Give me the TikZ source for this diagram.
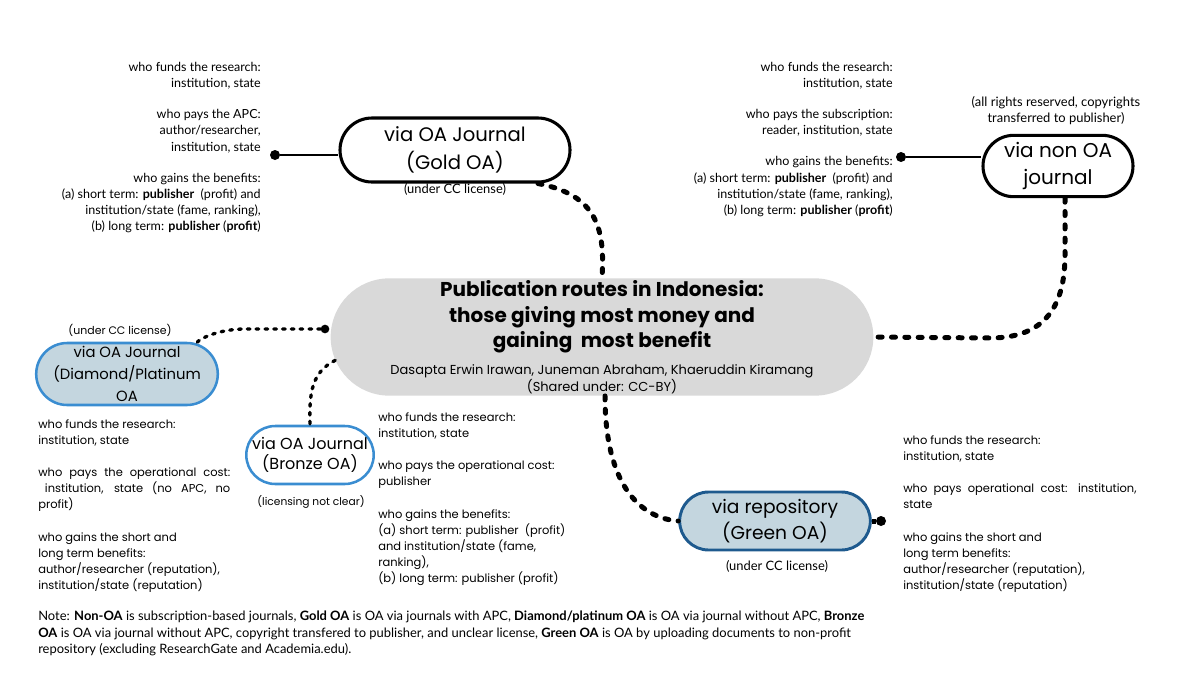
\documentclass[tikz,border=0pt]{standalone}
\usepackage{fontspec}
\setmainfont{Lato}
\newfontfamily\pop{Poppins}
\usetikzlibrary{shapes.misc}
\definecolor{cgray}{HTML}{D9D9D9}
\definecolor{cfill}{HTML}{C4D6DF}
\definecolor{cblue}{HTML}{3A8DD1}
\definecolor{cdark}{HTML}{1E5A8E}
\begin{document}
\begin{tikzpicture}[x=0.75pt,y=-0.75pt,
  route/.style={rounded rectangle, inner sep=0pt, align=center},
  blackroute/.style={route, draw=black, line width=2.3pt, fill=white},
  blueroute/.style={route, draw=cblue, line width=1.9pt},
  conn/.style={line width=3.75pt, dash pattern=on 3pt off 7pt, line cap=round},
  thinconn/.style={line width=2.5pt, dash pattern=on 2pt off 4.6pt, line cap=round},
  solidconn/.style={line width=1.6pt},
  dot/.style={circle, fill=black, inner sep=0pt, minimum size=7.5pt},
  toptxt/.style={inner sep=0pt, font=\fontsize{9.4}{12.2}\selectfont},
  lowtxt/.style={inner sep=0pt, align=left, font=\pop\fontsize{8.6}{12}\selectfont},
  sublbl/.style={inner sep=0pt, align=center, font=\fontsize{9.7}{12}\selectfont},
]
\useasboundingbox (0,0) rectangle (1200,675);

% ---------- nodes ----------
\node[route, fill=cgray, minimum width=407pt, minimum height=88pt] (center) at (602,337) {};
\node[inner sep=0pt, align=center, font=\pop\bfseries\fontsize{15}{19}\selectfont] (title) at (602,317)
  {Publication routes in Indonesia:\\ those giving most money and\\ gaining\ \ most benefit};
\node[inner sep=0pt, align=center, font=\pop\fontsize{9.75}{13}\selectfont] (authors) at (602,379)
  {Dasapta Erwin Irawan, Juneman Abraham, Khaeruddin Kiramang\\ (Shared under: CC-BY)};

\node[blackroute, minimum width=172.5pt, minimum height=48pt, font=\pop\fontsize{14.7}{21}\selectfont] (gold) at (455,150)
  {via OA Journal\\ (Gold OA)};
\node[sublbl] (goldlic) at (455,189) {(under CC license)};

\node[blackroute, minimum width=112.5pt, minimum height=46pt, font=\pop\fontsize{15}{20.5}\selectfont] (nonoa) at (1058,166)
  {via non OA\\ journal};
\node[sublbl] (nonoalic) at (1056,111) {(all rights reserved, copyrights\\ transferred to publisher)};

\node[blueroute, fill=cfill, minimum width=109pt, minimum height=46.5pt, font=\pop\fontsize{11.1}{16.5}\selectfont] (diamond) at (127,374)
  {via OA Journal\\ (Diamond/Platinum\\ OA};
\node[sublbl, font=\pop\fontsize{8.2}{12}\selectfont] (diamondlic) at (120,330) {(under CC license)};

\node[blueroute, fill=white, minimum width=90pt, minimum height=43.5pt, font=\pop\fontsize{12}{15}\selectfont] (bronze) at (310,455)
  {via OA Journal\\ (Bronze OA)};
\node[sublbl, font=\pop\fontsize{8}{12}\selectfont] (bronzelic) at (311,502) {(licensing not clear)};

\node[route, draw=cdark, line width=2.2pt, fill=cfill, minimum width=143pt, minimum height=43.5pt, font=\pop\fontsize{14}{20}\selectfont] (green) at (775,521)
  {via repository\\ (Green OA)};
\node[sublbl] (greenlic) at (777,566) {(under CC license)};

% ---------- text blocks ----------
\node[toptxt, align=right, anchor=north east] (tl) at (261,62)
  {who funds the research:\\ institution, state\\[11pt]
   who pays the APC:\\ author/researcher,\\ institution, state\\[11pt]
   who gains the benefits:\\ (a) short term: \textbf{publisher}\ \ (profit) and\\
   institution/state (fame, ranking),\\ (b) long term: \textbf{publisher} (\textbf{profit})};

\node[toptxt, align=right, anchor=north east] (tr) at (893,62)
  {who funds the research:\\ institution, state\\[11pt]
   who pays the subscription:\\ reader, institution, state\\[11pt]
   who gains the benefits:\\ (a) short term: \textbf{publisher}\ \ (profit) and\\
   institution/state (fame, ranking),\\ (b) long term: \textbf{publisher} (\textbf{profit})};

\node[lowtxt, anchor=north west] (dtxt) at (38,419)
  {who funds the research:\\ institution, state\\[12.5pt]
   \makebox[144pt][s]{who pays the operational cost:}\\
   \makebox[144pt][s]{\hspace*{5pt}institution, state (no APC, no}\\ profit)\\[12.5pt]
   who gains the short and\\ long term benefits:\\ author/researcher (reputation),\\ institution/state (reputation)};

\node[lowtxt, anchor=north west] (btxt) at (378,412)
  {who funds the research:\\ institution, state\\[12.5pt]
   who pays the operational cost:\\ publisher\\[12.5pt]
   who gains the benefits:\\ (a) short term: publisher\ \ (profit)\\ and institution/state (fame,\\
   ranking),\\ (b) long term: publisher (profit)};

\node[lowtxt, anchor=north west] (gtxt) at (903,435)
  {who funds the research:\\ institution, state\\[12.5pt]
   \makebox[175pt][s]{who pays operational cost: institution,}\\ state\\[12.5pt]
   who gains the short and\\ long term benefits:\\ author/researcher (reputation),\\ institution/state (reputation)};

\node[inner sep=0pt, align=left, anchor=north west, font=\fontsize{9.7}{12.4}\selectfont] (note) at (38,611)
  {Note: \textbf{Non-OA} is subscription-based journals, \textbf{Gold OA} is OA via journals with APC, \textbf{Diamond/platinum OA} is OA via journal without APC, \textbf{Bronze}\\
   \textbf{OA} is OA via journal without APC, copyright transfered to publisher, and unclear license, \textbf{Green OA} is OA by uploading documents to non-profit\\
   repository (excluding ResearchGate and Academia.edu).};

% ---------- dots ----------
\node[dot] (golddot) at (275,155) {};
\node[dot] (nonoadot) at (901,157) {};
\node[dot] (greendot) at (881,521) {};
\node[dot, minimum size=6.5pt] (diadot) at (325,329) {};

% ---------- connectors ----------
\draw[solidconn] (golddot) -- (golddot -| gold.west);
\draw[solidconn] (nonoadot) -- (nonoadot -| nonoa.west);
\draw[line width=3.75pt] (green.east) -- (greendot);

\draw[conn] (gold.-22) .. controls (598,195) and (605,230) .. (center.north);
\draw[conn] ([xshift=5.25pt]nonoa.south) -- (1065,255) .. controls (1065,312) and (1040,338) .. (990,338) -- (center.east);
\draw[conn] ([xshift=2.25pt]center.south) .. controls (605,485) and (640,518) .. (green.west);
\draw[thinconn] (diadot) -- (245,329) .. controls (220,329) and (200,338) .. (diamond.24);
\draw[thinconn] (center.185) .. controls (312,372) and (309,392) .. (bronze.north);
\end{tikzpicture}
\end{document}
